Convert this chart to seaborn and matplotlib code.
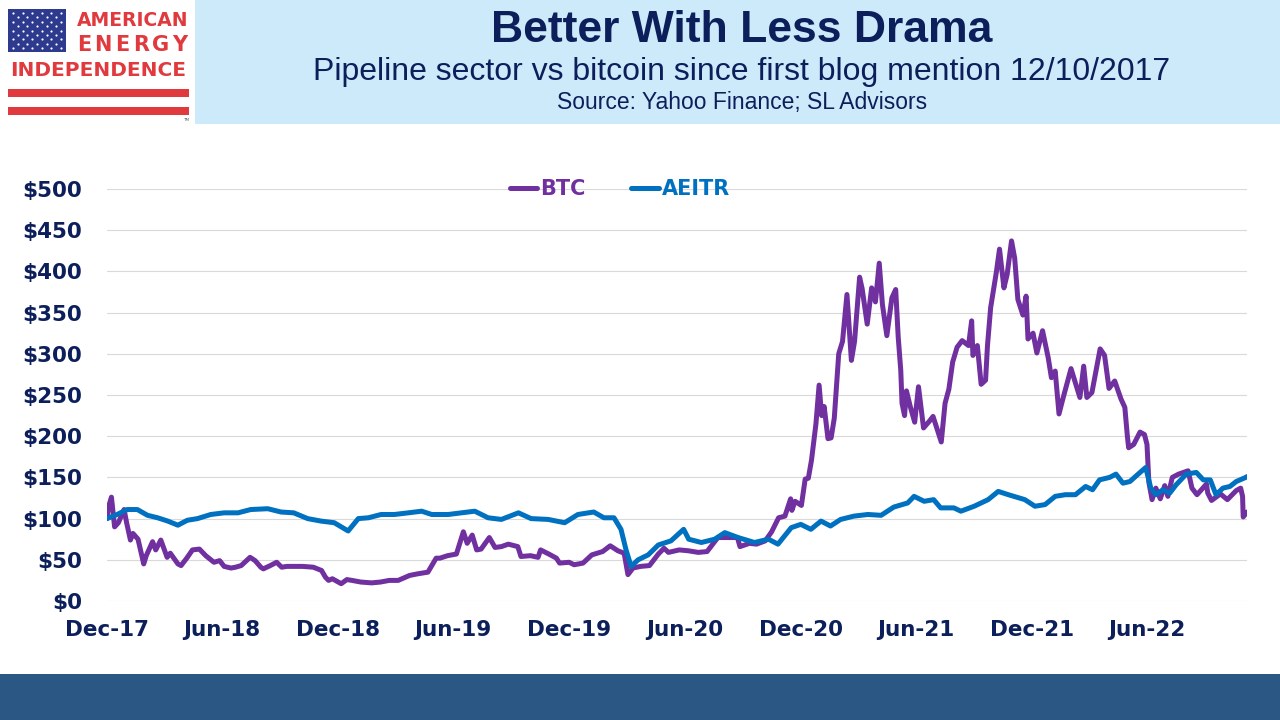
import numpy as np
import pandas as pd
import matplotlib
matplotlib.use("Agg")
import matplotlib.pyplot as plt
import matplotlib.dates as mdates
from matplotlib.patches import Rectangle
import seaborn as sns

sns.set_style("white")
plt.rcParams["font.family"] = ["DejaVu Sans"]

# --- data (index, 12/10/2017 = 100) ---
btc_dates = [
    "2017-12-10", "2017-12-12", "2017-12-17", "2017-12-22", "2017-12-28",
    "2018-01-06", "2018-01-10", "2018-01-16", "2018-01-20", "2018-01-28",
    "2018-02-06", "2018-02-10", "2018-02-20", "2018-02-25", "2018-03-05",
    "2018-03-15", "2018-03-20", "2018-04-01", "2018-04-06", "2018-04-15",
    "2018-04-24", "2018-05-05", "2018-05-15", "2018-05-28", "2018-06-06",
    "2018-06-13", "2018-06-24", "2018-07-01", "2018-07-10", "2018-07-24",
    "2018-08-01", "2018-08-10", "2018-08-14", "2018-08-25", "2018-09-04",
    "2018-09-12", "2018-09-20", "2018-10-01", "2018-10-15", "2018-11-01",
    "2018-11-14", "2018-11-20", "2018-11-25", "2018-12-01", "2018-12-15",
    "2018-12-24", "2019-01-01", "2019-01-15", "2019-02-01", "2019-02-15",
    "2019-03-01", "2019-03-15", "2019-04-02", "2019-04-15", "2019-05-01",
    "2019-05-14", "2019-05-20", "2019-06-01", "2019-06-15", "2019-06-26",
    "2019-07-02", "2019-07-10", "2019-07-17", "2019-07-24", "2019-08-06",
    "2019-08-15", "2019-08-25", "2019-09-05", "2019-09-20", "2019-09-25",
    "2019-10-10", "2019-10-22", "2019-10-26", "2019-11-08", "2019-11-20",
    "2019-11-25", "2019-12-10", "2019-12-18", "2020-01-01", "2020-01-15",
    "2020-02-01", "2020-02-13", "2020-02-25", "2020-03-06", "2020-03-12",
    "2020-03-20", "2020-04-01", "2020-04-15", "2020-04-29", "2020-05-08",
    "2020-05-15", "2020-06-01", "2020-06-15", "2020-07-01", "2020-07-15",
    "2020-07-27", "2020-08-01", "2020-08-15", "2020-09-01", "2020-09-05",
    "2020-09-20", "2020-10-01", "2020-10-15", "2020-10-25", "2020-11-05",
    "2020-11-15", "2020-11-24", "2020-11-26", "2020-12-01", "2020-12-11",
    "2020-12-17", "2020-12-22", "2020-12-27", "2021-01-03", "2021-01-08",
    "2021-01-12", "2021-01-16", "2021-01-22", "2021-01-27", "2021-02-01",
    "2021-02-08", "2021-02-14", "2021-02-21", "2021-02-28", "2021-03-05",
    "2021-03-13", "2021-03-17", "2021-03-25", "2021-04-01", "2021-04-07",
    "2021-04-13", "2021-04-18", "2021-04-25", "2021-05-03", "2021-05-09",
    "2021-05-13", "2021-05-17", "2021-05-19", "2021-05-23", "2021-05-26",
    "2021-06-01", "2021-06-08", "2021-06-14", "2021-06-22", "2021-07-01",
    "2021-07-07", "2021-07-20", "2021-07-26", "2021-08-01", "2021-08-07",
    "2021-08-14", "2021-08-22", "2021-09-01", "2021-09-06", "2021-09-08",
    "2021-09-15", "2021-09-21", "2021-09-28", "2021-10-01", "2021-10-06",
    "2021-10-15", "2021-10-20", "2021-10-27", "2021-11-01", "2021-11-08",
    "2021-11-13", "2021-11-18", "2021-11-26", "2021-12-01", "2021-12-04",
    "2021-12-12", "2021-12-18", "2021-12-27", "2022-01-05", "2022-01-10",
    "2022-01-16", "2022-01-22", "2022-01-28", "2022-02-10", "2022-02-14",
    "2022-02-24", "2022-03-02", "2022-03-07", "2022-03-15", "2022-03-28",
    "2022-04-04", "2022-04-11", "2022-04-20", "2022-04-30", "2022-05-06",
    "2022-05-10", "2022-05-12", "2022-05-20", "2022-05-30", "2022-06-06",
    "2022-06-10", "2022-06-13", "2022-06-18", "2022-06-24", "2022-07-01",
    "2022-07-08", "2022-07-13", "2022-07-20", "2022-07-30", "2022-08-14",
    "2022-08-20", "2022-08-28", "2022-09-12", "2022-09-14", "2022-09-20",
    "2022-10-04", "2022-10-15", "2022-10-29", "2022-11-05", "2022-11-08",
    "2022-11-09", "2022-11-15",
]
btc_values = [
    100, 113, 126, 90, 95,
    111, 95, 74, 82, 75,
    45, 55, 72, 62, 74,
    53, 58, 45, 43, 52,
    62, 63, 55, 47, 49,
    42, 40, 41, 43, 53,
    49, 41, 39, 43, 47,
    41, 42, 42, 42, 41,
    37, 29, 25, 27, 21,
    26, 25, 23, 22, 23,
    25, 25, 31, 33, 35,
    52, 52, 55, 57, 84,
    70, 80, 62, 63, 77,
    65, 66, 69, 66, 54,
    55, 53, 62, 57, 52,
    46, 47, 44, 46, 56,
    60, 67, 61, 58, 32,
    40, 42, 43, 57, 64,
    59, 62, 61, 59, 60,
    72, 77, 77, 77, 66,
    70, 69, 73, 84, 101,
    103, 124, 110, 121, 116,
    148, 149, 171, 215, 262,
    225, 236, 197, 198, 222,
    300, 315, 372, 292, 315,
    393, 379, 336, 380, 363,
    410, 360, 322, 368, 378,
    320, 280, 240, 225, 255,
    236, 217, 260, 210, 218,
    224, 193, 240, 257, 290,
    308, 316, 310, 340, 298,
    310, 263, 268, 310, 356,
    399, 427, 380, 396, 437,
    416, 366, 347, 370, 318,
    325, 301, 328, 295, 271,
    279, 227, 245, 282, 272,
    247, 285, 247, 253, 306,
    298, 258, 267, 245, 235,
    200, 186, 190, 205, 202,
    190, 144, 123, 137, 124,
    140, 127, 150, 154, 158,
    137, 129, 142, 131, 122,
    130, 123, 134, 137, 127,
    102, 108,
]

aeitr_dates = [
    "2017-12-10", "2017-12-26", "2018-01-11", "2018-01-27", "2018-02-12",
    "2018-02-28", "2018-03-16", "2018-04-01", "2018-04-16", "2018-05-02",
    "2018-05-23", "2018-06-13", "2018-07-05", "2018-07-25", "2018-08-21",
    "2018-09-11", "2018-10-01", "2018-10-23", "2018-11-13", "2018-12-04",
    "2018-12-26", "2019-01-11", "2019-01-27", "2019-02-16", "2019-03-09",
    "2019-03-31", "2019-04-21", "2019-05-07", "2019-06-02", "2019-06-23",
    "2019-07-14", "2019-08-04", "2019-08-25", "2019-09-21", "2019-10-11",
    "2019-11-07", "2019-12-03", "2019-12-24", "2020-01-18", "2020-02-03",
    "2020-02-19", "2020-03-01", "2020-03-09", "2020-03-17", "2020-03-28",
    "2020-04-13", "2020-04-29", "2020-05-19", "2020-06-08", "2020-06-16",
    "2020-07-06", "2020-07-27", "2020-08-12", "2020-09-02", "2020-09-28",
    "2020-10-20", "2020-11-04", "2020-11-25", "2020-12-10", "2020-12-26",
    "2021-01-11", "2021-01-26", "2021-02-11", "2021-03-04", "2021-03-26",
    "2021-04-16", "2021-05-06", "2021-05-28", "2021-06-07", "2021-06-23",
    "2021-07-08", "2021-07-19", "2021-08-09", "2021-08-20", "2021-09-10",
    "2021-10-02", "2021-10-18", "2021-11-03", "2021-11-29", "2021-12-15",
    "2021-12-31", "2022-01-16", "2022-02-01", "2022-02-17", "2022-03-05",
    "2022-03-16", "2022-03-27", "2022-04-12", "2022-04-22", "2022-05-03",
    "2022-05-14", "2022-05-30", "2022-06-08", "2022-06-16", "2022-06-24",
    "2022-07-05", "2022-07-16", "2022-07-26", "2022-08-11", "2022-08-27",
    "2022-09-07", "2022-09-18", "2022-09-27", "2022-10-08", "2022-10-19",
    "2022-10-29", "2022-11-13", "2022-11-15",
]
aeitr_values = [
    100, 105, 111, 111, 104,
    101, 97, 92, 98, 100,
    105, 107, 107, 111, 112,
    108, 107, 100, 97, 95,
    85, 100, 101, 105, 105,
    107, 109, 105, 105, 107,
    109, 101, 99, 107, 100,
    99, 95, 105, 108, 101,
    101, 87, 62, 42, 50,
    56, 68, 73, 87, 75,
    71, 75, 83, 77, 71,
    75, 69, 89, 93, 87,
    97, 91, 99, 103, 105,
    104, 114, 119, 127, 121,
    123, 113, 113, 109, 115,
    123, 133, 129, 123, 115,
    117, 127, 129, 129, 139,
    135, 147, 150, 154, 143,
    145, 156, 162, 137, 129,
    135, 131, 141, 154, 156,
    147, 147, 129, 137, 139,
    145, 150, 151,
]

tick_dates = ["2017-12-10", "2018-06-10", "2018-12-10", "2019-06-10", "2019-12-10",
              "2020-06-10", "2020-12-10", "2021-06-10", "2021-12-10", "2022-06-10"]
y_ticks = [0, 50, 100, 150, 200, 250, 300, 350, 400, 450, 500]

BTC_COLOR = "#7030A0"
AEITR_COLOR = "#0070C0"
NAVY = "#0C1F5B"
RED = "#E0393E"

btc = pd.DataFrame({"date": pd.to_datetime(btc_dates), "value": btc_values})
aeitr = pd.DataFrame({"date": pd.to_datetime(aeitr_dates), "value": aeitr_values})

fig = plt.figure(figsize=(12.8, 7.2), dpi=100)

# background layer in pixel coordinates (header band, logo, footer band)
bg = fig.add_axes([0, 0, 1, 1], zorder=0)
bg.set_xlim(0, 1280)
bg.set_ylim(720, 0)
bg.axis("off")
bg.add_patch(Rectangle((195, 0), 1085, 124, color="#CDEAFB", lw=0))
bg.add_patch(Rectangle((0, 674), 1280, 46, color="#2B5784", lw=0))

# logo
bg.add_patch(Rectangle((8, 9), 58, 43, color="#2E3A8E", lw=0))
star_rows = np.linspace(13, 48, 9)
for k, sy in enumerate(star_rows):
    sx = np.linspace(13, 61, 6) if k % 2 == 0 else np.linspace(17.8, 56.2, 5)
    bg.scatter(sx, np.full(len(sx), sy), s=2.5, color="white", lw=0)
bg.text(188, 21, "AMERICAN", color=RED, fontsize=13.5, fontweight="bold",
        ha="right", va="center")
for letter, lx in zip("ENERGY", np.linspace(84, 180, 6)):
    bg.text(lx, 45, letter, color=RED, fontsize=15, fontweight="bold",
            ha="center", va="center")
bg.text(98, 70, "INDEPENDENCE", color=RED, fontsize=14.5, fontweight="bold",
        ha="center", va="center")
bg.add_patch(Rectangle((8, 89), 181, 8, color=RED, lw=0))
bg.add_patch(Rectangle((8, 107), 181, 8, color=RED, lw=0))
bg.text(186, 120, "TM", color="#555555", fontsize=3, ha="center", va="center")

# titles
bg.text(742, 31, "Better With Less Drama", color=NAVY, fontsize=32,
        fontweight="bold", family=["Liberation Sans", "DejaVu Sans"],
        ha="center", va="center")
bg.text(742, 72, "Pipeline sector vs bitcoin since first blog mention 12/10/2017",
        color=NAVY, fontsize=23, family=["Liberation Sans", "DejaVu Sans"],
        ha="center", va="center")
bg.text(742, 103, "Source: Yahoo Finance; SL Advisors", color=NAVY, fontsize=16.5,
        family=["Liberation Sans", "DejaVu Sans"], ha="center", va="center")

# main chart
ax = fig.add_axes([107 / 1280, 1 - 601 / 720, 1140 / 1280, 412 / 720], zorder=1)
ax.patch.set_alpha(0)
sns.lineplot(data=btc, x="date", y="value", ax=ax, color=BTC_COLOR,
             linewidth=3.6, label="BTC")
sns.lineplot(data=aeitr, x="date", y="value", ax=ax, color=AEITR_COLOR,
             linewidth=3.6, label="AEITR")

ax.set_xlim(pd.Timestamp("2017-12-10"), pd.Timestamp("2022-11-15"))
ax.set_ylim(0, 500)
ax.set_yticks(y_ticks)
ax.set_yticklabels([f"${v}" for v in y_ticks])
ax.set_xticks(pd.to_datetime(tick_dates))
ax.xaxis.set_major_formatter(mdates.DateFormatter("%b-%y"))
ax.set_xlabel("")
ax.set_ylabel("")
ax.grid(axis="y", color="#D9D9D9", linewidth=0.8)
ax.set_axisbelow(True)
for s in ax.spines.values():
    s.set_visible(False)
ax.tick_params(axis="y", length=0, pad=18, labelsize=15.5, labelcolor=NAVY)
ax.tick_params(axis="x", length=0, pad=14, labelsize=15.5, labelcolor=NAVY)
for lab in ax.get_xticklabels() + ax.get_yticklabels():
    lab.set_fontweight("bold")

leg = ax.legend(loc="center", bbox_to_anchor=(0.45, 1.0), ncol=2, frameon=False,
                handlelength=1.3, handletextpad=0.15, columnspacing=2.2,
                labelcolor="linecolor", prop={"weight": "bold", "size": 15})
for line in leg.get_lines():
    line.set_linewidth(3.6)

fig.savefig("out.png", dpi=100)
